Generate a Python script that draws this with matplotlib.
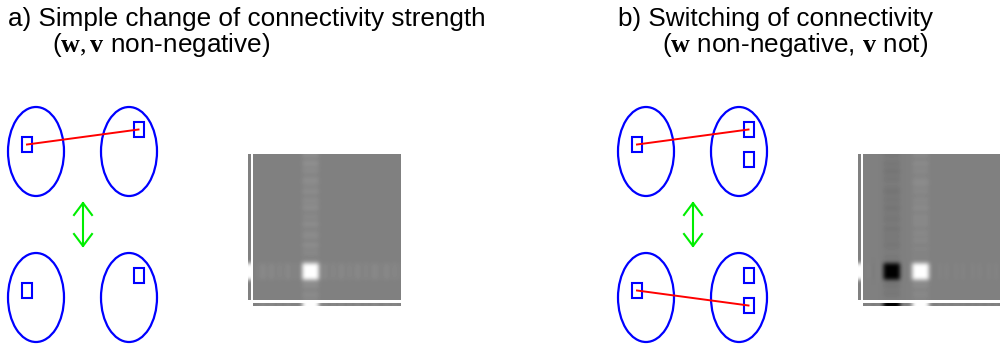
import numpy as np
import matplotlib
matplotlib.use("Agg")
import matplotlib.pyplot as plt
from matplotlib.patches import Ellipse, Rectangle

plt.rcParams['font.family'] = ['Liberation Sans', 'DejaVu Sans']
plt.rcParams['mathtext.fontset'] = 'custom'
plt.rcParams['mathtext.rm'] = 'Liberation Serif'
plt.rcParams['mathtext.it'] = 'Liberation Serif:italic'
plt.rcParams['mathtext.bf'] = 'Liberation Serif:bold'

W, H = 1000, 348

titles = [
    ("a) Simple change of connectivity strength", r"($\mathbf{w}, \mathbf{v}$ non-negative)"),
    ("b) Switching of connectivity", r"($\mathbf{w}$ non-negative, $\mathbf{v}$ not)"),
]

# units inside each population (per panel): top row / bottom row
units_a = {"top_left": [(27, 144.5)], "top_right": [(138.5, 129.5)],
           "bot_left": [(27, 290.5)], "bot_right": [(138.5, 275.5)]}
units_b = {"top_left": [(27, 144.5)], "top_right": [(138.5, 129.5), (138.5, 159.5)],
           "bot_left": [(27, 290.5)], "bot_right": [(138.5, 275.5), (138.5, 305.5)]}
# connections (left unit -> right unit index)
links_a = [("top", 0, 0)]
links_b = [("top", 0, 0), ("bot", 0, 1)]

# connectivity matrices, 36 x 36, grey = 0.5
N = 36
blob_rows = [27, 28, 29, 30]
a_col = [0.56, 0.52, 0.57, 0.53, 0.55, 0.51, 0.56, 0.54, 0.52, 0.56, 0.51, 0.55,
         0.53, 0.56, 0.51, 0.54, 0.52, 0.56, 0.51, 0.54, 0.55, 0.51, 0.56, 0.52,
         0.54, 0.51, 0.53, 1.0, 1.0, 1.0, 1.0, 0.54, 0.56, 0.51, 0.55, 0.53]
a_row = [0.50, 0.52, 0.54, 0.51, 0.54, 0.51, 0.53, 0.51, 0.54, 0.51, 0.52, 0.50,
         1.0, 1.0, 1.0, 1.0, 0.51, 0.54, 0.51, 0.53, 0.51, 0.54, 0.51, 0.53,
         0.51, 0.54, 0.51, 0.53, 0.51, 0.54, 0.52, 0.51, 0.54, 0.51, 0.53, 0.51]
a_white_cols = [12, 13, 14, 15]

b_col_black = [0.47, 0.49, 0.46, 0.48, 0.45, 0.48, 0.46, 0.49, 0.47, 0.45, 0.48, 0.46,
               0.48, 0.45, 0.48, 0.47, 0.46, 0.49, 0.45, 0.48, 0.47, 0.48, 0.46, 0.48,
               0.49, 0.47, 0.48, 0.0, 0.0, 0.0, 0.0, 0.47, 0.45, 0.48, 0.46, 0.49]
b_col_white = [0.54, 0.51, 0.55, 0.52, 0.54, 0.51, 0.54, 0.55, 0.52, 0.54, 0.51, 0.54,
               0.52, 0.55, 0.51, 0.54, 0.53, 0.54, 0.51, 0.54, 0.52, 0.54, 0.51, 0.53,
               0.51, 0.52, 0.51, 1.0, 1.0, 1.0, 1.0, 0.53, 0.55, 0.51, 0.54, 0.52]
b_row = [0.50, 0.52, 0.48, 0.51, 0.50, 0.0, 0.0, 0.0, 0.0, 0.51, 0.49, 0.52,
         1.0, 1.0, 1.0, 1.0, 0.52, 0.49, 0.52, 0.50, 0.52, 0.49, 0.52, 0.50,
         0.52, 0.49, 0.52, 0.50, 0.52, 0.49, 0.52, 0.50, 0.52, 0.49, 0.52, 0.50]
b_black_cols = [5, 6, 7, 8]
b_white_cols = [12, 13, 14, 15]


def build_matrix(col_sets, row_vals):
    m = np.full((N, N), 0.5)
    for cols, vals in col_sets:
        for c in cols:
            m[:, c] = vals
    for r in blob_rows:
        m[r, :] = row_vals
    return m


mat_a = build_matrix([(a_white_cols, a_col)], a_row)
mat_b = build_matrix([(b_black_cols, b_col_black), (b_white_cols, b_col_white)], b_row)

fig = plt.figure(figsize=(W / 100, H / 100), dpi=100)
ax = fig.add_axes([0, 0, 1, 1])
ax.set_xlim(0, W)
ax.set_ylim(H, 0)
ax.axis('off')


def px_axes(x0, y0, x1, y1):
    a = fig.add_axes([x0 / W, 1 - y1 / H, (x1 - x0) / W, (y1 - y0) / H])
    a.axis('off')
    return a


def draw_panel(dx, units, links, mat, title):
    blue, red, green = '#0000ff', '#ff0000', '#00ee00'
    ax.text(8 + dx, 26, title[0], fontsize=18.8, va='baseline')
    ax.text(52 + dx, 52, title[1], fontsize=18.8, va='baseline')

    for cx in (36, 129):
        for cy in (151.5, 297.5):
            ax.add_patch(Ellipse((cx + dx, cy), 56, 89, fill=False, ec=blue, lw=1.6))
    for key, pts in units.items():
        for (x, y) in pts:
            ax.add_patch(Rectangle((x + dx - 5, y - 7.5), 10, 15, fill=False, ec=blue, lw=1.5))
    for row, i, j in links:
        p = units[row + "_left"][i]
        q = units[row + "_right"][j]
        ax.plot([p[0] + dx, q[0] + dx], [p[1], q[1]], color=red, lw=1.4, zorder=3)

    # double-headed arrow between the two states
    x = 83 + dx
    ax.plot([x, x], [203, 246], color=green, lw=1.5)
    ax.plot([x - 9, x, x + 9], [215, 203, 215], color=green, lw=1.5)
    ax.plot([x - 9, x, x + 9], [234, 246, 234], color=green, lw=1.5)

    # matrix with marginal strips (row activity on the left, column activity below)
    kw = dict(cmap='gray', vmin=0, vmax=1, aspect='auto', interpolation='bicubic')
    main = px_axes(252.5 + dx, 154, 400 + dx, 300.5)
    main.imshow(mat, **kw)
    active = (mat.min(axis=1) < 0.2) | (mat.max(axis=1) > 0.9)
    left = px_axes(248 + dx, 154, 250.5 + dx, 300.5)
    left.imshow(np.where(active, 1.0, 0.5)[:, None], **kw)
    bottom = px_axes(252.5 + dx, 302.5, 400 + dx, 306)
    bottom.imshow(mat[blob_rows[0]][None, :], **kw)


draw_panel(0, units_a, links_a, mat_a, titles[0])
draw_panel(610, units_b, links_b, mat_b, titles[1])

fig.savefig("out.png", dpi=100, facecolor='white')
